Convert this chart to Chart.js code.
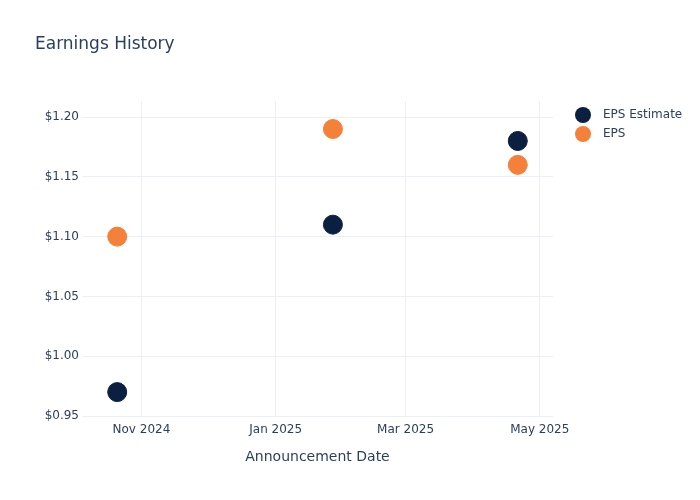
<!DOCTYPE html>
<html>
<head>
<meta charset="utf-8">
<script src="https://cdn.jsdelivr.net/npm/chart.js@4/dist/chart.umd.min.js"></script>
<style>
  html, body { margin: 0; padding: 0; background: #fff; }
  #wrap { width: 700px; height: 500px; }
</style>
</head>
<body>
<div id="wrap"><canvas id="myChart" width="700" height="500"></canvas></div>
<script>
/* global Chart */

// announcement dates and values
const dates = ['2024-10-21', '2025-01-27', '2025-04-21'];
const epsEstimate = [0.97, 1.11, 1.18];
const eps = [1.10, 1.19, 1.16];

const xTicks = ['2024-11-01', '2025-01-01', '2025-03-01', '2025-05-01'];
const yTicks = [0.95, 1.00, 1.05, 1.10, 1.15, 1.20];
const xRange = ['2024-10-05', '2025-05-07'];
const yRange = [0.95, 1.2134];

const MONTHS = ['Jan', 'Feb', 'Mar', 'Apr', 'May', 'Jun', 'Jul', 'Aug', 'Sep', 'Oct', 'Nov', 'Dec'];
const TEXT = '#2a3f5f';
const GRID = '#ebf0f8';
const FONT = '"DejaVu Sans", sans-serif';

function toTime(s) {
  const p = s.split('-').map(Number);
  return Date.UTC(p[0], p[1] - 1, p[2]);
}

function points(values) {
  return values.map(function(v, i) {
    return { x: toTime(dates[i]), y: v };
  });
}

// title and legend drawn by hand, plotly style
const decorations = {
  id: 'decorations',
  afterDraw: function(chart) {
    const c = chart.ctx;
    c.save();
    c.fillStyle = TEXT;
    c.textBaseline = 'middle';
    c.textAlign = 'left';
    c.font = '17px ' + FONT;
    c.fillText('Earnings History', 35, 45);

    c.font = '12px ' + FONT;
    chart.data.datasets.forEach(function(ds, i) {
      const y = 115 + i * 19;
      c.beginPath();
      c.arc(583, y, 8, 0, Math.PI * 2);
      c.fillStyle = ds.backgroundColor;
      c.fill();
      c.fillStyle = TEXT;
      c.fillText(ds.label, 603, y);
    });
    c.restore();
  }
};

const ctx = document.getElementById('myChart').getContext('2d');

const chart = new Chart(ctx, {
  type: 'scatter',
  data: {
    datasets: [{
      label: 'EPS Estimate',
      backgroundColor: '#0b1f41',
      borderColor: '#0b1f41',
      pointRadius: 9.5,
      data: points(epsEstimate),
    },
    {
      label: 'EPS',
      backgroundColor: '#f5803a',
      borderColor: '#f5803a',
      pointRadius: 9.5,
      data: points(eps),
    }]
  },
  options: {
    responsive: false,
    animation: false,
    layout: { padding: { left: 35, right: 147, top: 101, bottom: 34 } },
    plugins: {
      legend: { display: false },
      tooltip: { enabled: false },
      title: { display: false },
    },
    scales: {
      x: {
        type: 'linear',
        min: toTime(xRange[0]),
        max: toTime(xRange[1]),
        border: { display: false },
        grid: { color: GRID, drawTicks: false },
        afterBuildTicks: function(scale) {
          scale.ticks = xTicks.map(function(s) { return { value: toTime(s) }; });
        },
        afterFit: function(scale) { scale.height = 50; },
        ticks: {
          padding: 7,
          maxRotation: 0,
          color: TEXT,
          font: { family: FONT, size: 12 },
          callback: function(v) {
            const d = new Date(v);
            return MONTHS[d.getUTCMonth()] + ' ' + d.getUTCFullYear();
          }
        },
        title: {
          display: true,
          text: 'Announcement Date',
          color: TEXT,
          font: { family: FONT, size: 14 },
          padding: 0,
        }
      },
      y: {
        min: yRange[0],
        max: yRange[1],
        border: { display: false },
        grid: { color: GRID, drawTicks: false },
        afterBuildTicks: function(scale) {
          scale.ticks = yTicks.map(function(v) { return { value: v }; });
        },
        afterFit: function(scale) { scale.width = 47; },
        ticks: {
          padding: 3,
          color: TEXT,
          font: { family: FONT, size: 12 },
          callback: function(v) { return '$' + v.toFixed(2); }
        }
      }
    }
  },
  plugins: [decorations]
});
</script>
</body>
</html>
